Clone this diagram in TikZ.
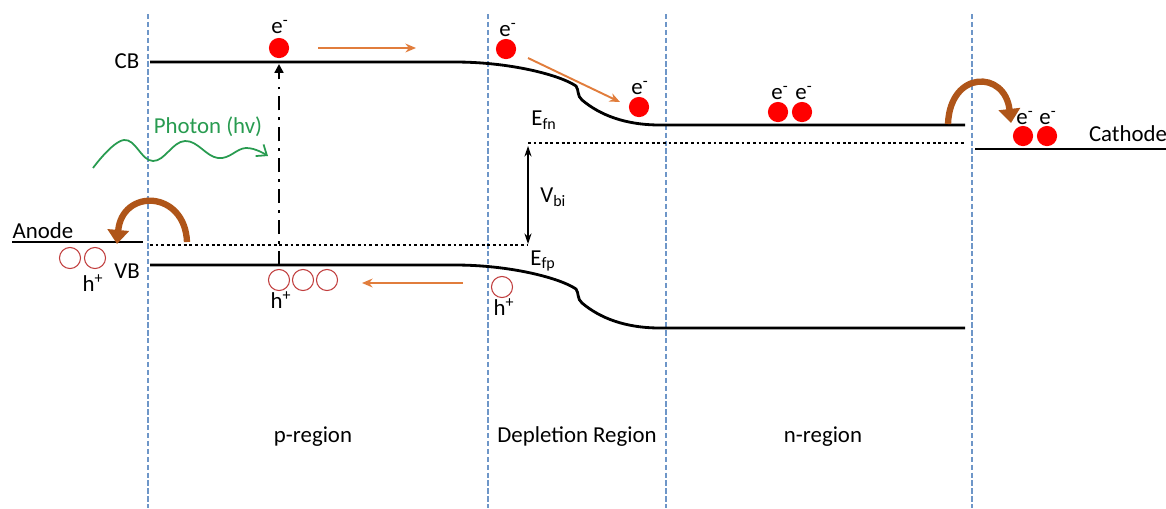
\documentclass[tikz,border=0pt]{standalone}
\usepackage{fontspec}
\setmainfont{Carlito}
\usetikzlibrary{arrows.meta}
\definecolor{sepblue}{RGB}{110,150,200}
\definecolor{eorange}{RGB}{225,125,60}
\definecolor{arrbrown}{RGB}{175,85,25}
\definecolor{holered}{RGB}{192,60,60}
\definecolor{phgreen}{RGB}{40,155,80}
\tikzset{
  sep/.style={sepblue, line width=0.7pt, dash pattern=on 3pt off 1.5pt},
  band/.style={black, line width=1.6pt},
  fermi/.style={black, line width=1.4pt, dash pattern=on 1.6pt off 1.6pt},
  elec/.style={circle, fill=red, draw=none, minimum size=11.5pt, inner sep=0pt},
  hole/.style={circle, draw=holered, line width=0.6pt, minimum size=12pt, inner sep=0pt},
  lbl/.style={font=\fontsize{13}{15}\selectfont, inner sep=0pt},
  drift/.style={eorange, line width=1.1pt, -{Stealth[length=6pt,width=5pt]}},
  hop/.style={arrbrown, line width=3.6pt, -{Triangle[length=8pt,width=12pt]}},
}
\begin{document}
\begin{tikzpicture}[x=0.02cm, y=-0.02cm]
\useasboundingbox (0,0) rectangle (1166,508);
% separators
\foreach \xx/\nm in {148/s1, 488/s2, 666/s3, 972/s4}{
  \coordinate (\nm t) at (\xx,14);
  \coordinate (\nm b) at (\xx,508);
  \draw[sep] (\nm t) -- (\nm b);
}
% bands
\draw[band] (150,62) -- (455,62) .. controls (510,62) and (560,75) .. (576,86)
  .. controls (579,90) and (577,96) .. (582,100)
  .. controls (600,115) and (625,125) .. (660,125) -- (965,125);
\begin{scope}[shift={(0,203)}]
\draw[band] (150,62) -- (455,62) .. controls (510,62) and (560,75) .. (576,86)
  .. controls (579,90) and (577,96) .. (582,100)
  .. controls (600,115) and (625,125) .. (660,125) -- (965,125);
\end{scope}
% electrodes
\coordinate (an1) at (12,242); \coordinate (an2) at (143,242);
\draw[band] (an1) -- (an2);
\coordinate (ca1) at (975,149); \coordinate (ca2) at (1166,149);
\draw[band] (ca1) -- (ca2);
% fermi levels
\coordinate (fp1) at (150,245); \coordinate (fp2) at (528,245);
\coordinate (fn1) at (528,143); \coordinate (fn2) at (965,143);
\draw[fermi] (fp1) -- (fp2);
\draw[fermi] (fn1) -- (fn2);
\draw[line width=0.7pt, {Stealth[length=6pt,width=4pt]}-{Stealth[length=6pt,width=4pt]}] (528,146) -- (528,244);
% labels
\node[lbl] (cb) at (127,61) {CB};
\node[lbl] (vb) at (127,271) {VB};
\node[lbl] (anode) at (43,231) {Anode};
\node[lbl] (cathode) at (1128,134) {Cathode};
\node[lbl, text=phgreen] (photon) at (208,127) {Photon (hv)};
\node[lbl, anchor=west] (efn) at (531,120) {E\textsubscript{fn}};
\node[lbl, anchor=west] (vbi) at (540,197) {V\textsubscript{bi}};
\node[lbl, anchor=west] (efp) at (530,261) {E\textsubscript{fp}};
\node[lbl] (preg) at (313,437) {p-region};
\node[lbl] (dreg) at (577,437) {Depletion Region};
\node[lbl] (nreg) at (823,437) {n-region};
% dash-dot excitation
\coordinate (exb) at (279,265); \coordinate (ext) at (279,64);
\draw[black, line width=1.4pt, dash pattern=on 8pt off 4pt on 1.6pt off 4pt, -{Triangle[length=5pt,width=5pt]}] (exb) -- (ext);
% photon wave
\draw[phgreen, line width=1pt, -{Straight Barb[length=5pt,width=8pt]}] plot[smooth, tension=0.7] coordinates {(93,168) (124,140) (153,161) (185,141) (218,158) (246,148) (268,156)};
% electrons
\node[elec] (e1) at (279,48) {};
\node[elec] (e2) at (506,49) {};
\node[elec] (e3) at (639,107) {};
\node[elec] (e4) at (778,112) {};
\node[elec] (e5) at (802,112) {};
\node[elec] (e6) at (1023,136) {};
\node[elec] (e7) at (1047,136) {};
\foreach \nm/\xx/\yy in {l1/280/27, l2/508/30, l3/640/88, l4/780/93, l5/804/93, l6/1025/118, l7/1048/118}{
  \node[lbl] (\nm) at (\xx,\yy) {e\textsuperscript{-}};
}
% holes
\node[hole] (h1) at (70,258) {};
\node[hole] (h2) at (95,258) {};
\node[hole] (h3) at (279,280) {};
\node[hole] (h4) at (303,280) {};
\node[hole] (h5) at (327,280) {};
\node[hole] (h6) at (502,287) {};
\node[lbl] (hl1) at (93,283) {h\textsuperscript{+}};
\node[lbl] (hl2) at (281,300) {h\textsuperscript{+}};
\node[lbl] (hl3) at (504,307) {h\textsuperscript{+}};
% drift arrows
\coordinate (d1a) at (318,48); \coordinate (d1b) at (416,48);
\draw[drift] (d1a) -- (d1b);
\coordinate (d2a) at (528,58); \coordinate (d2b) at (620,102);
\draw[drift] (d2a) -- (d2b);
\coordinate (d3a) at (463,283); \coordinate (d3b) at (362,283);
\draw[drift] (d3a) -- (d3b);
% hop arrows
\coordinate (ha1) at (187,242); \coordinate (ha2) at (117,244);
\draw[hop] (ha1) .. controls (185,190) and (122,188) .. (ha2);
\coordinate (hc1) at (948,124); \coordinate (hc2) at (1011,123);
\draw[hop] (hc1) .. controls (950,70) and (1005,70) .. (hc2);
\end{tikzpicture}
\end{document}
